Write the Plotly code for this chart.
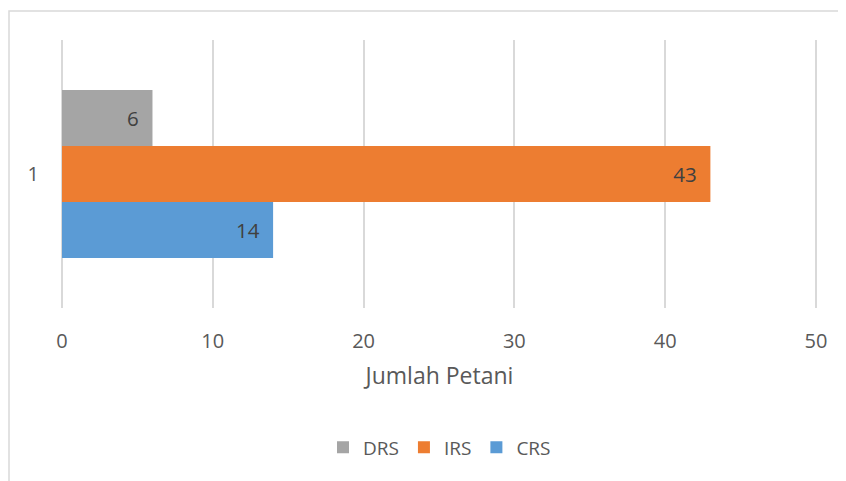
import plotly.graph_objects as go

categories = ["1"]
series_names = ["CRS", "IRS", "DRS"]
series_values = {"CRS": [14], "IRS": [43], "DRS": [6]}
series_colors = {"CRS": "#5B9BD5", "IRS": "#ED7D31", "DRS": "#A5A5A5"}
x_ticks = [0, 10, 20, 30, 40, 50]

FONT = "Open Sans, sans-serif"

fig = go.Figure()
for name in series_names:
    fig.add_trace(go.Bar(
        y=categories, x=series_values[name], name=name, orientation="h",
        marker=dict(color=series_colors[name], line=dict(width=0)),
        text=[f"{v}\u00a0\u00a0" for v in series_values[name]],
        textposition="inside", insidetextanchor="end",
        textfont=dict(family=FONT, size=20.5, color="#404040"),
        constraintext="none",
    ))

fig.update_layout(
    width=838, height=473,
    margin=dict(l=54, r=29, t=32, b=173),
    paper_bgcolor="white", plot_bgcolor="white",
    barmode="group", bargap=0.373, bargroupgap=0,
    font=dict(family=FONT, size=20, color="#595959"),
    showlegend=True,
    legend=dict(orientation="h", traceorder="reversed", x=0.5, xanchor="center",
                y=-0.52, yanchor="middle", font=dict(family=FONT, size=19, color="#595959"),
                itemclick=False),
    xaxis=dict(range=[0, 50.07], tickvals=x_ticks, showgrid=True, gridcolor="#D9D9D9", gridwidth=1.5,
               zeroline=True, zerolinecolor="#D9D9D9", zerolinewidth=1.5,
               showline=False, ticks="outside", ticklen=15,
               tickcolor="rgba(0,0,0,0)",
               tickfont=dict(family=FONT, size=20, color="#595959"),
               title=dict(text="Jumlah Petani", standoff=14,
                          font=dict(family=FONT, size=23, color="#595959"))),
    yaxis=dict(type="category", showgrid=False, zeroline=False, showline=False,
               ticks="outside", ticklen=18, tickcolor="rgba(0,0,0,0)",
               tickfont=dict(family=FONT, size=20, color="#595959")),
    shapes=[dict(type="rect", xref="paper", yref="paper",
                 x0=(9 - 62) / 755, x1=(852 - 62) / 755,
                 y0=(308 - 490) / 268, y1=(308 - 11) / 268,
                 line=dict(color="#D9D9D9", width=1.5), fillcolor="rgba(0,0,0,0)",
                 layer="below")],
)

fig.write_html("out.html")
